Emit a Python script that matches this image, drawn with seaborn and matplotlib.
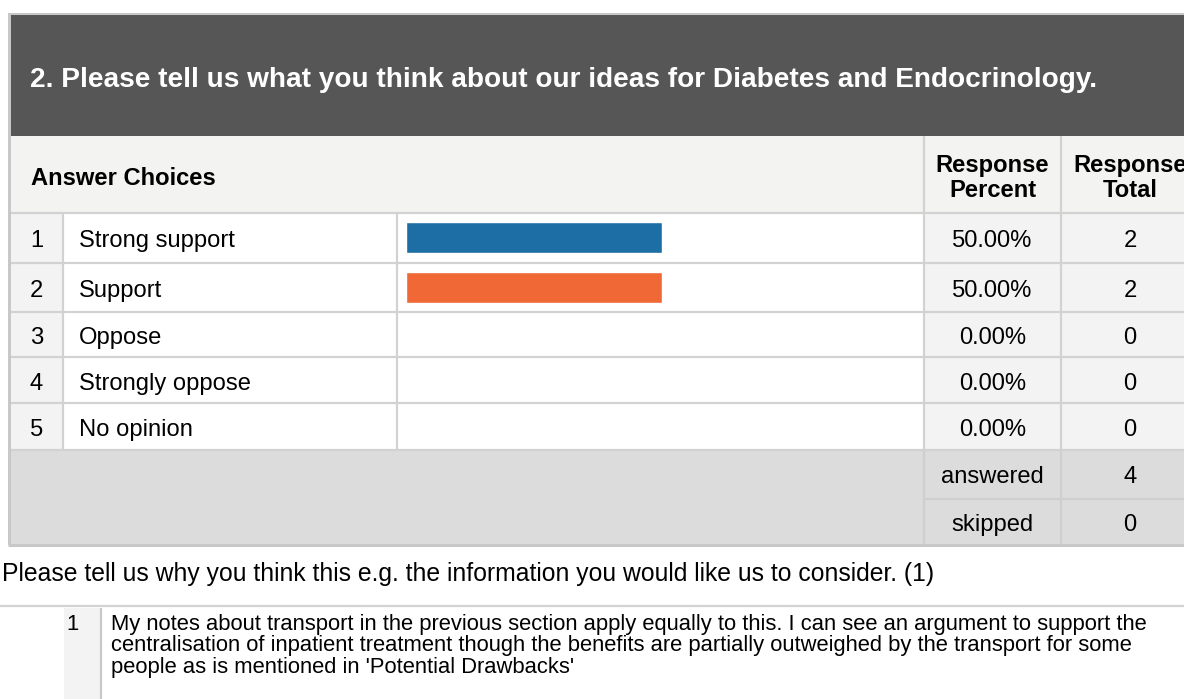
"""
Survey result card: question 2, Diabetes and Endocrinology.
Table of answer choices with a seaborn bar for each response percent.
"""
import numpy as np
import pandas as pd
import matplotlib.pyplot as plt
import seaborn as sns
from matplotlib.patches import Rectangle

# --- data ---
titulo = "2. Please tell us what you think about our ideas for Diabetes and Endocrinology."
opciones = ["Strong support", "Support", "Oppose", "Strongly oppose", "No opinion"]
porcentajes = [50.0, 50.0, 0.0, 0.0, 0.0]
totales = [2, 2, 0, 0, 0]
colores = ["#1e6ea6", "#f06835", "#1e6ea6", "#1e6ea6", "#1e6ea6"]
respondidas = 4
omitidas = 0
pregunta_abierta = "Please tell us why you think this e.g. the information you would like us to consider. (1)"
comentario = [
    "My notes about transport in the previous section apply equally to this. I can see an argument to support the",
    "centralisation of inpatient treatment though the benefits are partially outweighed by the transport for some",
    "people as is mentioned in 'Potential Drawbacks'",
]

# --- layout in pixels ---
W, H = 1184, 699
FS = 17.1          # table text
GRIS_LINEA = "#d2d2d2"
GRIS_CELDA = "#f3f3f3"
GRIS_RESUMEN = "#dcdcdc"
filas = [213, 262.5, 312, 357, 403, 449.5]
col_num, col_txt, col_bar, col_pct, col_tot = 10.5, 63, 397, 924, 1061
x_pct = (col_pct + col_tot) / 2
x_tot = 1130


def rect(ax, x0, y0, x1, y1, color, z=1):
    ax.add_patch(Rectangle((x0, y0), x1 - x0, y1 - y0, facecolor=color, edgecolor="none", zorder=z))


def hline(ax, y, x0=col_num, x1=W, color=GRIS_LINEA, lw=1.6):
    ax.plot([x0, x1], [y, y], color=color, lw=lw, zorder=3, solid_capstyle="butt")


def vline(ax, x, y0, y1, color=GRIS_LINEA, lw=1.6):
    ax.plot([x, x], [y0, y1], color=color, lw=lw, zorder=3, solid_capstyle="butt")


def texto(ax, x, yc, s, size=FS, color="black", **kw):
    # put the middle of the capitals on yc
    em = size / 0.72
    return ax.text(x, yc + 0.36 * em, s, fontsize=size, va="baseline", color=color, zorder=4, **kw)


def ajustar(fig, ax, x, yc, s, ancho, color="black", **kw):
    # pick the font size that gives the text the width seen in the reference
    renderer = fig.canvas.get_renderer()
    t = ax.text(0, 0, s, fontsize=20, **kw)
    w = t.get_window_extent(renderer).width
    t.remove()
    size = 20 * ancho / w
    texto(ax, x, yc, s, size=size, color=color, **kw)
    return size


def run():
    sns.set_theme(style="white")
    plt.rcParams["font.family"] = ["Liberation Sans", "DejaVu Sans"]

    fig = plt.figure(figsize=(W / 100, H / 100), dpi=100)
    ax = fig.add_axes([0, 0, 1, 1])
    ax.set_xlim(0, W)
    ax.set_ylim(H, 0)
    ax.axis("off")

    # outer border + dark title band
    rect(ax, 8, 13, W, 545, "#c8c8c8", z=0)
    rect(ax, col_num, 15, W, 136, "#555655")
    ajustar(fig, ax, 30.5, 77, titulo, 1066, color="white", fontweight="bold")

    # header row
    rect(ax, col_num, 136, W, filas[0], "#f3f3f2")
    texto(ax, 31, 176, "Answer Choices", fontweight="bold")
    for x, (a, b) in ((x_pct, ("Response", "Percent")), (x_tot, ("Response", "Total"))):
        texto(ax, x, 163, a, fontweight="bold", ha="center")
        texto(ax, x, 188, b, fontweight="bold", ha="center")
    vline(ax, col_pct, 136, filas[0])
    vline(ax, col_tot, 136, filas[0])

    # answer rows
    centros = []
    for i, (op, pct, tot) in enumerate(zip(opciones, porcentajes, totales)):
        y0, y1 = filas[i], filas[i + 1]
        yc = (y0 + y1) / 2
        centros.append(yc)
        rect(ax, col_num, y0, col_txt, y1, GRIS_CELDA)
        rect(ax, col_txt, y0, col_pct, y1, "white")
        rect(ax, col_pct, y0, W, y1, GRIS_CELDA)
        texto(ax, 36.5, yc + 1, str(i + 1), ha="center")
        texto(ax, 79, yc + 1, op)
        texto(ax, x_pct, yc + 1, f"{pct:.2f}%", ha="center")
        texto(ax, x_tot, yc + 1, str(tot), ha="center")
        for x in (col_txt, col_bar, col_pct, col_tot):
            vline(ax, x, y0 + 1, y1 - 1)
    for y in filas:
        hline(ax, y)

    # summary block
    fin_resp, fin_tabla = 499, 545
    rect(ax, col_num, filas[-1], W, fin_tabla, GRIS_RESUMEN)
    texto(ax, x_pct, (filas[-1] + fin_resp) / 2, "answered", ha="center")
    texto(ax, x_tot, (filas[-1] + fin_resp) / 2, str(respondidas), ha="center")
    texto(ax, x_pct, (fin_resp + fin_tabla) / 2, "skipped", ha="center")
    texto(ax, x_tot, (fin_resp + fin_tabla) / 2, str(omitidas), ha="center")
    hline(ax, fin_resp, col_pct, W, color="#cfcfcf")
    vline(ax, col_pct, filas[-1], fin_tabla, color="#cfcfcf")
    vline(ax, col_tot, filas[-1], fin_tabla, color="#cfcfcf")
    hline(ax, fin_tabla, 8, W, color="#c8c8c8", lw=2.2)

    # open question and its comment
    ajustar(fig, ax, 2, 572, pregunta_abierta, 934)
    hline(ax, 606, 0, W, color=GRIS_LINEA)
    rect(ax, 64, 608, 101, H, GRIS_CELDA)
    vline(ax, 101, 608, H, color="#c8c8c8")
    fs_com = ajustar(fig, ax, 111, 622, comentario[0], 1035)
    texto(ax, 73, 622, "1", size=fs_com, ha="center")
    for k, linea in enumerate(comentario[1:], start=1):
        texto(ax, 111, 622 + k * 21.5, linea, size=fs_com)

    # bars: percent axis 0-100 across the bar column, rows in native pixel scale
    ax_bar = fig.add_axes([406 / W, 0, 512 / W, 1])
    df = pd.DataFrame({"opcion": opciones, "pct": porcentajes, "fila": centros})
    ancho = 31 / np.min(np.diff(sorted(centros)))
    sns.barplot(data=df, x="pct", y="fila", hue="opcion", palette=colores, orient="h",
                native_scale=True, dodge=False, legend=False, width=ancho, saturation=1,
                ax=ax_bar)
    ax_bar.set_xlim(0, 100)
    ax_bar.set_ylim(H, 0)
    ax_bar.axis("off")
    ax_bar.patch.set_alpha(0)

    fig.savefig("out.png", dpi=100)
    print("saved out.png")


if __name__ == "__main__":
    run()
